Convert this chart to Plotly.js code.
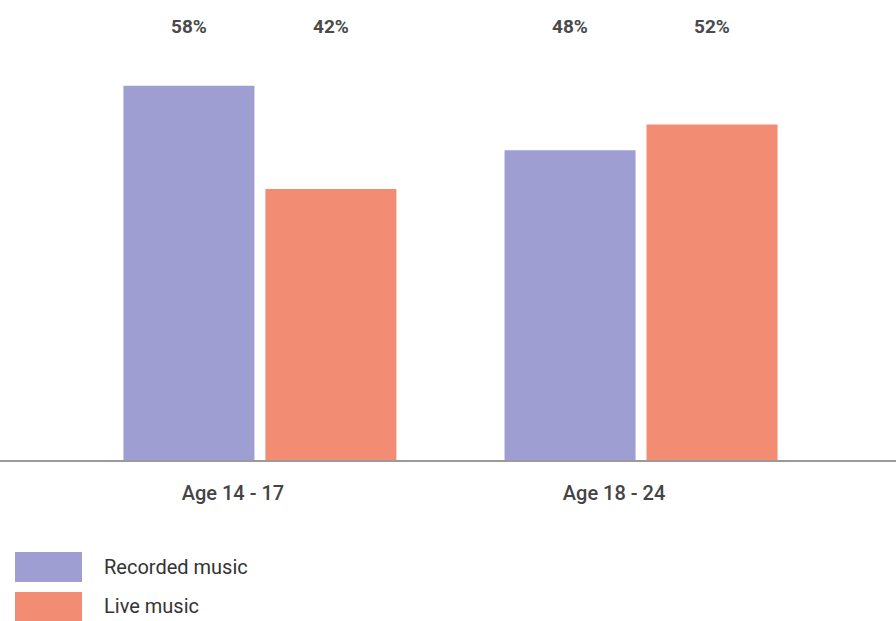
<!DOCTYPE html>
<html>
<head>
<meta charset="utf-8">
<script src="https://cdn.plot.ly/plotly-3.0.1.min.js"></script>
<style>html,body{margin:0;padding:0;background:#fff;}#chart{width:896px;height:621px;}</style>
</head>
<body>
<div id="chart"></div>
<script>
const categories = ["Age 14 - 17", "Age 18 - 24"];
const recorded = [58, 48];
const live = [42, 52];
const seriesNames = ["Recorded music", "Live music"];
const colors = ["#9e9ed2", "#f28d73"];

const traces = [
  {type: "bar", name: seriesNames[0], x: [0, 1], y: recorded, marker: {color: colors[0], line: {width: 0}}, hoverinfo: "none"},
  {type: "bar", name: seriesNames[1], x: [0, 1], y: live, marker: {color: colors[1], line: {width: 0}}, hoverinfo: "none"}
];

const fam = "Roboto, 'DejaVu Sans', sans-serif";
const labelFont = {family: fam, size: 19, color: "#4a4a4a", weight: 700};
const annotations = [];
const series = [recorded, live];
const offsets = [-0.186, 0.186];
series.forEach((vals, s) => {
  vals.forEach((v, i) => {
    annotations.push({x: i + offsets[s], xref: "x", y: 1 - 26 / 460, yref: "paper", yanchor: "middle", text: v + "%", showarrow: false, font: labelFont});
  });
});
// legend
const legY = [(460 - 567) / 460, (460 - 606) / 460];
seriesNames.forEach((n, s) => {
  annotations.push({x: 102 / 896, xref: "paper", xanchor: "left", y: legY[s], yref: "paper", yanchor: "middle", text: n, showarrow: false, font: {family: fam, size: 20, color: "#333"}});
});

const shapes = [
  {type: "rect", xref: "paper", yref: "paper", x0: 15/896, x1: 82/896, y0: (460-582)/460, y1: (460-552)/460, fillcolor: colors[0], line: {width: 0}},
  {type: "rect", xref: "paper", yref: "paper", x0: 15/896, x1: 82/896, y0: (460-625)/460, y1: (460-592)/460, fillcolor: colors[1], line: {width: 0}}
];

const layout = {
  width: 896, height: 621,
  margin: {l: 0, r: 0, t: 0, b: 161},
  paper_bgcolor: "#fff", plot_bgcolor: "#fff",
  showlegend: false,
  barmode: "group",
  bargap: 0.255,
  bargroupgap: 0.077,
  xaxis: {
    range: [-0.682, 1.669],
    tickvals: [0, 1], ticktext: categories,
    showline: true, linecolor: "#9a9a9a", linewidth: 2,
    showgrid: false, zeroline: false, ticks: "",
    ticklabelshift: -27, ticklabelstandoff: 14,
    tickfont: {family: fam, size: 20, color: "#444", weight: 500}
  },
  yaxis: {range: [0, 71.3], visible: false, showgrid: false, zeroline: false},
  annotations: annotations,
  shapes: shapes,
  font: {family: fam}
};

Plotly.newPlot("chart", traces, layout, {displayModeBar: false, staticPlot: true});
</script>
</body>
</html>
